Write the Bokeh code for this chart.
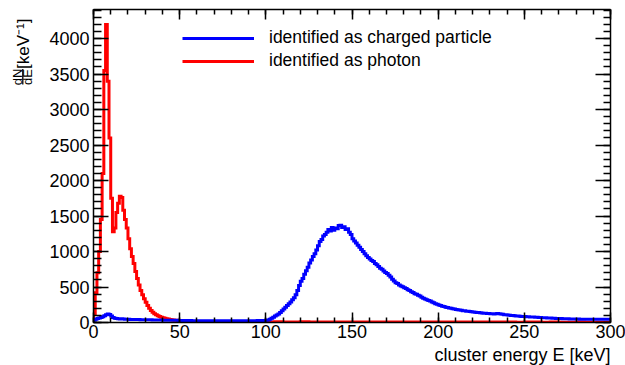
import numpy as np
from math import pi
from bokeh.plotting import figure
from bokeh.layouts import row, column
from bokeh.models import (Range1d, LinearAxis, SingleIntervalTicker, Legend, LegendItem,
                          CustomJSTickFormatter)
from bokeh.core.properties import value
from bokeh.embed import file_html
from bokeh.resources import INLINE

# ---------------- data ----------------
# photon: 1 keV bins 0-60, then 5 keV bins 60-300
RED_FINE = [120, 420, 700, 1000, 1450, 2100, 3550, 4200, 3400, 2600,
            1750, 1280, 1330, 1550, 1680, 1780, 1760, 1580, 1450, 1330,
            1180, 1040, 930, 830, 720, 620, 530, 450, 390, 335,
            285, 240, 200, 170, 145, 125, 108, 95, 84, 75,
            67, 60, 54, 49, 44, 40, 36, 33, 30, 27,
            25, 23, 21, 19, 18, 17, 16, 15, 14, 13]
RED_COARSE = [12, 11, 10, 10, 9, 9, 9, 8,
              8, 9, 8, 8, 9, 8, 8, 7, 8, 8,
              7, 8, 7, 7, 8, 7, 7, 7, 6, 7,
              7, 6, 7, 6, 6, 7, 6, 6, 6, 5,
              6, 6, 5, 6, 5, 5, 6, 5, 5, 5]

# charged particle: 1 keV bins 0-60, 5 keV bins 60-100, 1 keV bins 100-300
BLUE_LOW = [30, 45, 55, 62, 70, 80, 95, 110, 120, 112,
            90, 72, 60, 55, 52, 50, 52, 48, 47, 47,
            45, 44, 44, 43, 42, 42, 41, 40, 40, 39,
            38, 38, 37, 37, 36, 36, 35, 35, 34, 34,
            33, 33, 32, 32, 31, 31, 30, 30, 30, 29,
            29, 28, 28, 28, 27, 27, 27, 26, 26, 26]
BLUE_MID = [26, 25, 25, 25, 24, 25, 25, 27]
BLUE_HIGH = [30, 35, 45, 60, 75, 90, 105, 120, 140, 165,
             190, 215, 240, 265, 290, 320, 350, 390, 450, 520,
             580, 620, 680, 730, 780, 840, 880, 930, 970, 1020,
             1080, 1140, 1170, 1220, 1240, 1270, 1310, 1290, 1340, 1300,
             1330, 1320, 1365, 1370, 1340, 1350, 1310, 1320, 1270, 1240,
             1180, 1150, 1120, 1090, 1060, 1030, 1000, 970, 940, 915,
             895, 875, 860, 830, 815, 790, 765, 750, 725, 705,
             690, 665, 640, 610, 585, 560, 550, 530, 515, 505,
             490, 480, 460, 452, 435, 422, 405, 398, 385, 372,
             355, 342, 330, 322, 310, 302, 290, 277, 265, 257,
             245, 240, 230, 224, 215, 212, 205, 200, 192, 190,
             182, 180, 175, 171, 166, 164, 160, 158, 155, 151,
             148, 146, 142, 141, 137, 135, 132, 131, 128, 127,
             124, 123, 121, 124, 126, 122, 118, 115, 110, 108,
             104, 102, 99, 98, 95, 93, 90, 89, 86, 86,
             84, 82, 80, 79, 77, 76, 74, 73, 71, 70,
             68, 67, 66, 64, 63, 62, 60, 60, 58, 57,
             56, 55, 54, 54, 52, 52, 51, 50, 50, 49,
             48, 48, 47, 47, 46, 47, 46, 46, 47, 46,
             46, 47, 46, 45, 46, 46, 47, 46, 45, 46]

X_TITLE = "cluster energy E [keV]"
Y_TITLE_NUM = "dN"
Y_TITLE_DEN = "dE"
Y_TITLE_UNIT = "[keV⁻¹]"
LEGEND_LABELS = ["identified as charged particle", "identified as photon"]

X_TICK_STEP = 50
Y_TICK_STEP = 500
X_MAX = 300
Y_MAX = 4410

RED_EDGES = np.concatenate([np.arange(0, 60, 1), np.arange(60, 301, 5)])
BLUE_EDGES = np.concatenate([np.arange(0, 60, 1), np.arange(60, 100, 5), np.arange(100, 301, 1)])
RED_VALS = RED_FINE + RED_COARSE
BLUE_VALS = BLUE_LOW + BLUE_MID + BLUE_HIGH


def step_path(edges, vals):
    xs = [edges[0]]
    ys = [0]
    for i, v in enumerate(vals):
        xs += [edges[i], edges[i + 1]]
        ys += [v, v]
    return xs, ys


FONT = "Liberation Sans"

# ---------------- layout (pixels) ----------------
W, H = 625, 365
YT_W = 45          # width of the strip holding the y title
MAIN_H = 344       # height of the main plot
XT_H = H - MAIN_H  # strip holding the x title
FL, FT, FW, FH = 93, 9, 517, 313   # frame in page pixels
MAIN_W = W - YT_W
X_TITLE_BASELINE = 354


def bare(fig):
    fig.grid.visible = False
    fig.outline_line_color = None
    fig.background_fill_color = "white"
    fig.border_fill_color = "white"
    return fig


# ---------------- main plot ----------------
p = bare(figure(width=MAIN_W, height=MAIN_H, output_backend="svg", toolbar_location=None,
                x_range=Range1d(0, X_MAX), y_range=Range1d(0, Y_MAX),
                min_border_left=FL - YT_W, min_border_right=MAIN_W - (FL - YT_W) - FW,
                min_border_top=FT, min_border_bottom=MAIN_H - FT - FH))

rx, ry = step_path(RED_EDGES, RED_VALS)
bx, by = step_path(BLUE_EDGES, BLUE_VALS)
red_r = p.line(rx, ry, line_color="#ff0000", line_width=3, line_join="miter")
blue_r = p.line(bx, by, line_color="#0000ff", line_width=3, line_join="miter")

xt = SingleIntervalTicker(interval=X_TICK_STEP, num_minor_ticks=5)
yt = SingleIntervalTicker(interval=Y_TICK_STEP, num_minor_ticks=5)


def style(ax, major_in, minor_in, labels=True):
    ax.axis_line_width = 1.5
    ax.axis_line_color = "black"
    ax.major_tick_in = major_in
    ax.major_tick_out = 0
    ax.minor_tick_in = minor_in
    ax.minor_tick_out = 0
    ax.major_tick_line_width = 1.5
    ax.minor_tick_line_width = 1.5
    ax.major_tick_line_color = "black"
    ax.minor_tick_line_color = "black"
    if labels:
        ax.major_label_text_font = FONT
        ax.major_label_text_font_size = "18px"
        ax.major_label_text_color = "black"
    else:
        ax.formatter = CustomJSTickFormatter(code="return ''")
        ax.major_label_standoff = 0


p.xaxis.ticker = xt
p.yaxis.ticker = yt
style(p.xaxis[0], 10, 5)
style(p.yaxis[0], 15, 8)
p.xaxis[0].major_label_standoff = 2
p.yaxis[0].major_label_standoff = 4

top = LinearAxis(ticker=xt)
style(top, 10, 5, labels=False)
p.add_layout(top, "above")
right = LinearAxis(ticker=yt)
style(right, 15, 7, labels=False)
p.add_layout(right, "right")

legend = Legend(items=[LegendItem(label=LEGEND_LABELS[0], renderers=[blue_r]),
                       LegendItem(label=LEGEND_LABELS[1], renderers=[red_r])],
                location=(89, 251), glyph_width=72, glyph_height=20, label_standoff=15,
                spacing=2, padding=0, margin=0, border_line_alpha=0, background_fill_alpha=0,
                label_text_font=FONT, label_text_font_size="17.5px", label_text_color="black")
p.add_layout(legend)

# ---------------- y title strip (pixel coordinates, y measured upward) ----------------
yf = bare(figure(width=YT_W, height=MAIN_H, output_backend="svg", toolbar_location=None,
                 x_range=Range1d(0, YT_W), y_range=Range1d(0, MAIN_H),
                 x_axis_location=None, y_axis_location=None,
                 min_border_left=0, min_border_right=0, min_border_top=0, min_border_bottom=0))
FRAC_Y = MAIN_H - 74.2
yf.text(x=[22.7], y=[MAIN_H - 10], text=[Y_TITLE_UNIT], angle=pi / 2,
        text_align="right", text_baseline="middle",
        text_font=value(FONT), text_font_size="17px", text_color="black")
yf.text(x=[17.3, 27.4], y=[FRAC_Y, FRAC_Y], text=[Y_TITLE_NUM, Y_TITLE_DEN], angle=pi / 2,
        text_align="center", text_baseline="middle",
        text_font=value(FONT), text_font_size="13px", text_color="black")
yf.segment(x0=[22.3], y0=[MAIN_H - 65.5], x1=[22.3], y1=[MAIN_H - 82.5],
           line_color="black", line_width=1.3)

# ---------------- x title strip ----------------
xf = bare(figure(width=W, height=XT_H, output_backend="svg", toolbar_location=None,
                 x_range=Range1d(0, W), y_range=Range1d(0, XT_H),
                 x_axis_location=None, y_axis_location=None,
                 min_border_left=0, min_border_right=0, min_border_top=0, min_border_bottom=0))
xf.text(x=[FL + FW], y=[XT_H - (X_TITLE_BASELINE - MAIN_H)], text=[X_TITLE],
        text_align="right", text_baseline="alphabetic",
        text_font=value(FONT), text_font_size="18px", text_color="black")

layout = column(row(yf, p, spacing=0), xf, spacing=0)
open("out.html", "w").write(file_html(layout, INLINE))
